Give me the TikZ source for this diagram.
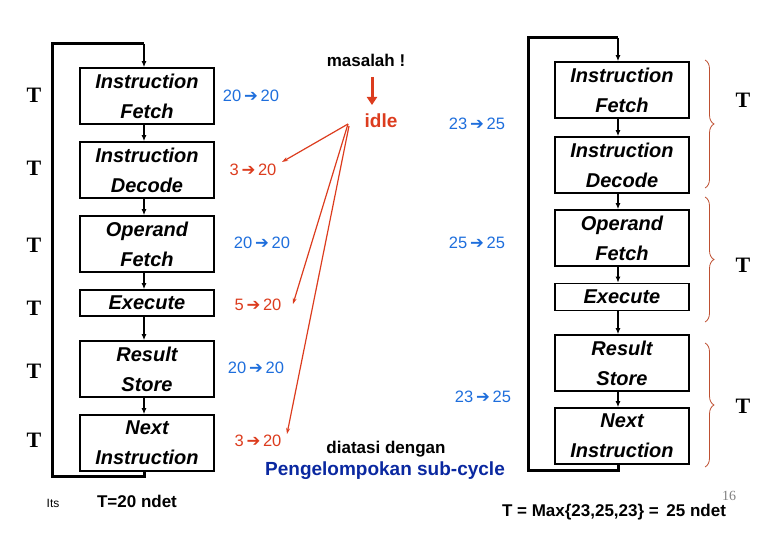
\documentclass[tikz,border=0pt]{standalone}
\usepackage{fontspec}
\setmainfont{Liberation Sans}
\newfontfamily\serifT{Liberation Serif}
\newfontfamily\arr{DejaVu Sans}
\usetikzlibrary{arrows.meta,decorations.pathreplacing}
\definecolor{lblue}{RGB}{30,110,220}
\definecolor{lred}{RGB}{220,60,30}
\definecolor{dblue}{RGB}{10,40,160}
\definecolor{brc}{RGB}{190,80,50}
\newcommand{\ar}{\,{\arr\bfseries ➔}\,}
\begin{document}
\begin{tikzpicture}[x=1pt,y=-1pt,
  stage/.style={draw,line width=1.6pt,minimum width=134pt,align=center,font=\fontsize{20}{30}\selectfont\bfseries\itshape,inner sep=0pt},
  flow/.style={line width=1.6pt,-{Latex[length=6pt,width=5pt]}},
  loop/.style={line width=3pt},
  tl/.style={font=\fontsize{22}{22}\selectfont\serifT\bfseries},
  bl/.style={text=lblue,font=\fontsize{16.5}{18}\selectfont},
  rl/.style={text=lred,font=\fontsize{16.5}{18}\selectfont},
  ra/.style={lred,line width=1.2pt,-{Stealth[length=6pt,width=4pt]}},
  br/.style={brc,line width=0.8pt,decorate,decoration={brace,amplitude=9pt}}]
\useasboundingbox (0,0) rectangle (780,540);
% left column
\node[stage,minimum height=56pt] (a1) at (147,96) {Instruction\\Fetch};
\node[stage,minimum height=56pt] (a2) at (147,170) {Instruction\\Decode};
\node[stage,minimum height=56pt] (a3) at (147,244) {Operand\\Fetch};
\node[stage,minimum height=26pt] (a4) at (147,303) {Execute};
\node[stage,minimum height=56pt] (a5) at (147,369) {Result\\Store};
\node[stage,minimum height=56pt] (a6) at (147,443) {Next\\Instruction};
\foreach \i/\j in {a1/a2,a2/a3,a3/a4,a4/a5,a5/a6} \draw[flow] (\i.south -| 144,0) -- (\j.north -| 144,0);
\coordinate (lt) at (52,44); \coordinate (lb) at (52,476);
\draw[loop] (a6.south -| 144,0) |- (lb) -- (lt) -- (144,44);
\draw[flow] (144,44) -- (a1.north -| 144,0);
\foreach \y/\n in {95/t1,168/t2,245/t3,308/t4,371/t5,440/t6} \node[tl] (\n) at (34,\y) {T};
\node[font=\fontsize{12}{12}\selectfont] (its) at (53,503) {Its};
\node[font=\fontsize{17}{18}\selectfont\bfseries] (t20) at (137,501) {T=20 ndet};
% right column
\node[stage,minimum height=56pt] (b1) at (622,90) {Instruction\\Fetch};
\node[stage,minimum height=56pt] (b2) at (622,165) {Instruction\\Decode};
\node[stage,minimum height=56pt] (b3) at (622,238) {Operand\\Fetch};
\node[stage,minimum height=27pt] (b4) at (622,297) {Execute};
\node[stage,minimum height=56pt] (b5) at (622,363) {Result\\Store};
\node[stage,minimum height=56pt] (b6) at (622,436) {Next\\Instruction};
\foreach \i/\j in {b1/b2,b2/b3,b3/b4,b4/b5,b5/b6} \draw[flow] (\i.south -| 618,0) -- (\j.north -| 618,0);
\coordinate (rt) at (528,38); \coordinate (rb) at (528,470);
\draw[loop] (b6.south -| 618,0) |- (rb) -- (rt) -- (618,38);
\draw[flow] (618,38) -- (b1.north -| 618,0);
\draw[br] (705,60) -- (705,188);
\draw[br] (705,197) -- (705,322);
\draw[br] (705,343) -- (705,467);
\node[tl] (r1) at (743,100) {T};
\node[tl] (r2) at (743,265) {T};
\node[tl] (r3) at (743,406) {T};
% labels
\node[bl] (l1) at (251,96) {20\ar20};
\node[rl] (l2) at (253,170) {3\ar20};
\node[bl] (l3) at (262,243) {20\ar20};
\node[rl] (l4) at (258,305) {5\ar20};
\node[bl] (l5) at (256,368) {20\ar20};
\node[rl] (l6) at (258,441) {3\ar20};
\node[bl] (m1) at (477,124) {23\ar25};
\node[bl] (m2) at (477,243) {25\ar25};
\node[bl] (m3) at (483,397) {23\ar25};
\node[font=\fontsize{17}{18}\selectfont\bfseries] (mas) at (366,60) {masalah !};
\node[text=lred,font=\fontsize{19}{20}\selectfont\bfseries] (idle) at (381,121) {idle};
\draw[lred,line width=3pt,-{Triangle[length=8pt,width=10pt]}] (372,77) -- (372,105);
\coordinate (src) at (348,124);
\draw[ra] (src) -- (282,162);
\draw[ra] (src) -- (293,304);
\draw[ra] (349,126) -- (287,434);
\node[font=\fontsize{17}{18}\selectfont\bfseries] (dia) at (386,449) {diatasi dengan};
\node[text=dblue,font=\fontsize{19}{20}\selectfont\bfseries] (pen) at (385,471) {Pengelompokan sub-cycle};
\node[font=\fontsize{17}{18}\selectfont\bfseries] (tmax) at (614,512) {T = Max\{23,25,23\} = \,25 ndet};
\node[text=gray,font=\serifT\fontsize{14}{14}\selectfont] (pg) at (729,496) {16};
\end{tikzpicture}
\end{document}
